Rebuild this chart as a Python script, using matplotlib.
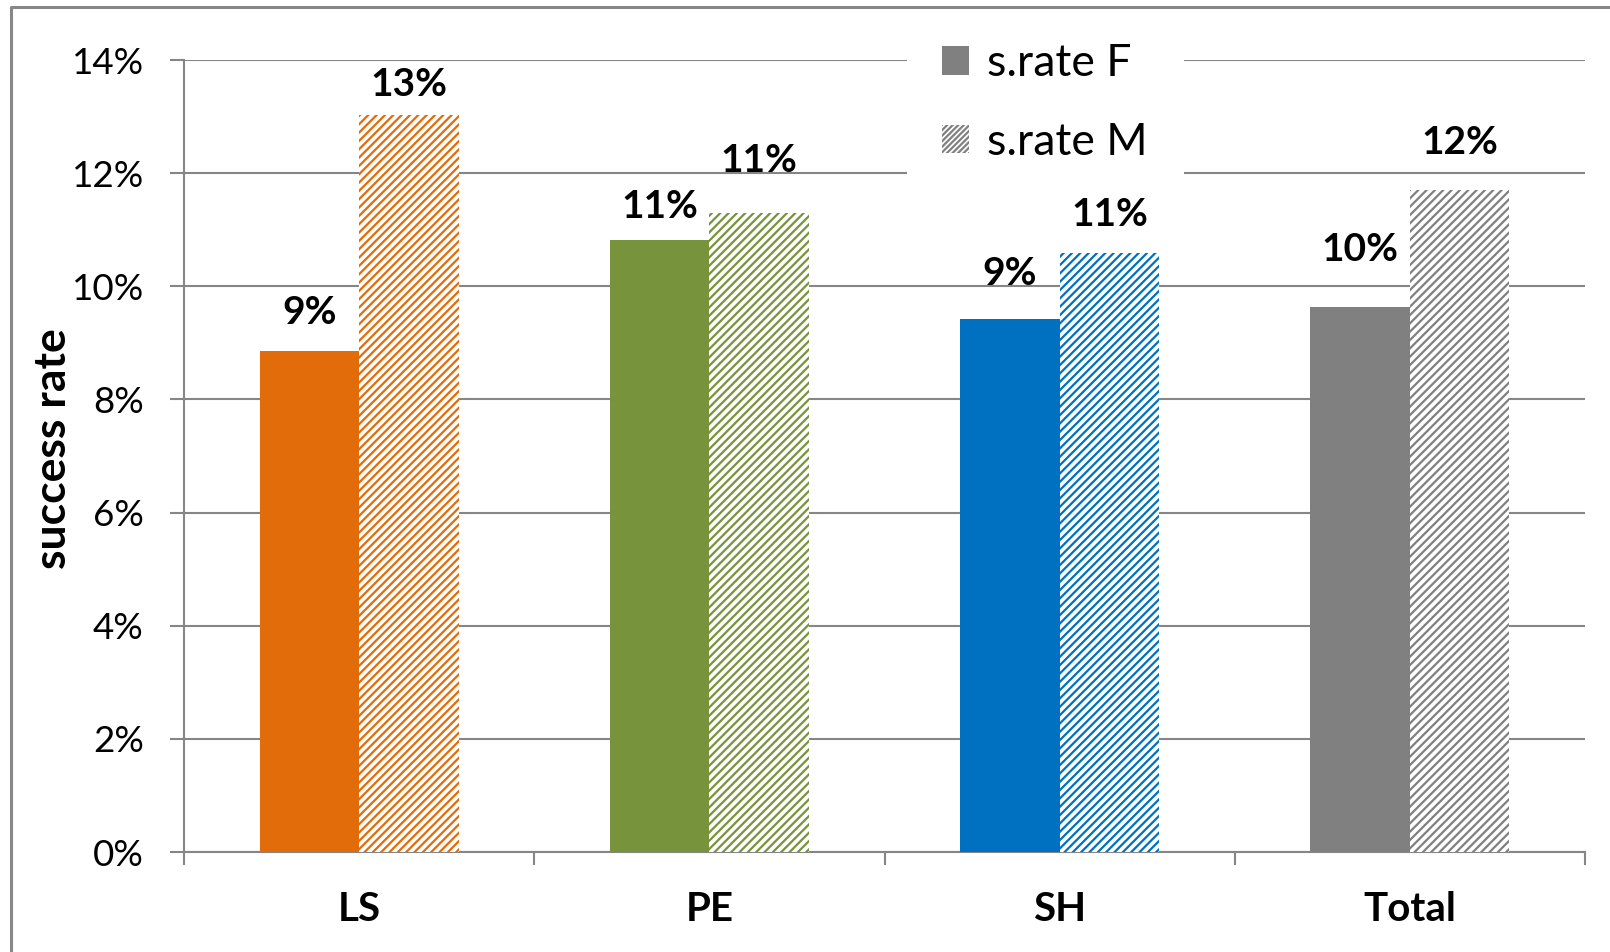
import matplotlib
matplotlib.use("Agg")
import matplotlib.pyplot as plt
from matplotlib.patches import Patch, Rectangle
from matplotlib.lines import Line2D
from matplotlib.ticker import FuncFormatter, FixedLocator
import numpy as np

categories = ["LS", "PE", "SH", "Total"]
rate_f = [8.85, 10.82, 9.42, 9.64]
rate_m = [13.02, 11.29, 10.58, 11.71]
labels_f = ["9%", "11%", "9%", "10%"]
labels_m = ["13%", "11%", "11%", "12%"]
colors = ["#E36C0A", "#77933C", "#0070C0", "#808080"]
series_names = ["s.rate F", "s.rate M"]
yticks = [0, 2, 4, 6, 8, 10, 12, 14]

# label offsets above bar tops (points), layout only
off_f = [28, 24, 33, 41]
off_m = [22, 38, 28, 34]

plt.rcParams["font.family"] = ["Lato", "DejaVu Sans"]
plt.rcParams["hatch.linewidth"] = 1.6

fig = plt.figure(figsize=(16.1, 9.52), dpi=100)
ax = fig.add_axes([184/1610, 1-852/952, (1585-184)/1610, (852-60)/952])

x = np.arange(len(categories))
w = 0.284
bf = ax.bar(x - w/2, rate_f, w, color=colors, edgecolor=colors, linewidth=0, zorder=3)
bm = ax.bar(x + w/2, rate_m, w, color="white", edgecolor=colors, hatch="////", linewidth=0, zorder=3)

for i in range(len(categories)):
    ax.annotate(labels_f[i], (x[i] - w/2, rate_f[i]), xytext=(0, off_f[i]), textcoords="offset points",
                ha="center", va="center", fontsize=28, fontweight="bold", color="#000000", zorder=5)
    ax.annotate(labels_m[i], (x[i] + w/2, rate_m[i]), xytext=(0, off_m[i]), textcoords="offset points",
                ha="center", va="center", fontsize=28, fontweight="bold", color="#000000", zorder=5)

ax.set_xlim(-0.5, len(categories) - 0.5)
ax.set_ylim(0, 14)
ax.set_yticks(yticks)
ax.yaxis.set_major_formatter(FuncFormatter(lambda v, p: f"{int(round(v))}%"))
ax.grid(axis="y", color="#868686", linewidth=1.5, zorder=0)
ax.set_axisbelow(True)

ax.set_xticks(x)
ax.set_xticklabels(categories, fontsize=29, fontweight="bold")
ax.xaxis.set_minor_locator(FixedLocator(np.arange(-0.5, len(categories), 1.0)))
ax.tick_params(axis="x", which="major", length=0, pad=28)
ax.tick_params(axis="x", which="minor", length=9.5, width=1.5, color="#868686", direction="out")
ax.tick_params(axis="y", which="major", length=10, width=1.5, color="#868686", direction="out",
               labelsize=26.5, pad=19)

for s in ["top", "right"]:
    ax.spines[s].set_visible(False)
for s in ["left", "bottom"]:
    ax.spines[s].set_color("#868686")
    ax.spines[s].set_linewidth(1.5)

fig.text(53/1610, 1-449/952, "success rate", rotation=90, ha="center", va="center",
         fontsize=32, fontweight="bold")

# white legend background that interrupts the gridlines
ax.add_patch(Rectangle((907/1610, 1-182/952), (1184-907)/1610, (182-30)/952,
                       transform=fig.transFigure, facecolor="white", edgecolor="none",
                       zorder=1, clip_on=False))

handles = [Patch(facecolor="#808080", edgecolor="#808080", linewidth=0),
           Patch(facecolor="white", edgecolor="#808080", hatch="//////", linewidth=0)]
leg = fig.legend(handles, series_names, loc="center", bbox_to_anchor=(1045/1610, 1-103/952),
                 fontsize=32, frameon=False,
                 borderpad=0.4, handlelength=0.6, handleheight=0.6, handletextpad=0.4,
                 labelspacing=0.85)

# outer frame (left and top edges visible)
fig.add_artist(Line2D([11/1610, 11/1610, 1.0], [0.0, 1-7/952, 1-7/952], transform=fig.transFigure,
                      color="#878787", linewidth=2.2))

fig.savefig("out.png", dpi=100)
